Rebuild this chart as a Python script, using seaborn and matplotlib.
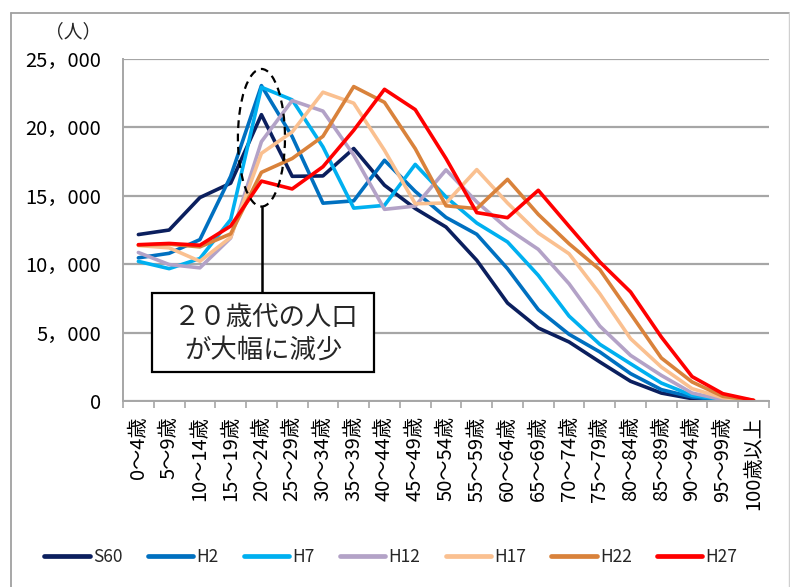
import numpy as np
import pandas as pd
import matplotlib
matplotlib.use("Agg")
import matplotlib.pyplot as plt
import seaborn as sns
from matplotlib.patches import Ellipse, Rectangle
from matplotlib.lines import Line2D
from matplotlib.ticker import FuncFormatter, FixedLocator

# ---------------- data ----------------
categories = ["0～4歳", "5～9歳", "10～14歳", "15～19歳", "20～24歳", "25～29歳",
              "30～34歳", "35～39歳", "40～44歳", "45～49歳", "50～54歳", "55～59歳",
              "60～64歳", "65～69歳", "70～74歳", "75～79歳", "80～84歳", "85～89歳",
              "90～94歳", "95～99歳", "100歳以上"]

s60 = [12150, 12480, 14850, 15900, 20900, 16400, 16430, 18430, 15750, 14050, 12700,
       10270, 7150, 5330, 4310, 2850, 1440, 580, 170, 30, 0]
h2 = [10450, 10780, 11780, 16400, 23020, 19300, 14440, 14610, 17570, 15300, 13400,
      12170, 9660, 6670, 4870, 3580, 2000, 830, 290, 50, 5]
h7 = [10190, 9660, 10400, 13240, 22900, 21980, 18550, 14080, 14280, 17270, 14890,
      12990, 11610, 9170, 6200, 4140, 2720, 1310, 410, 100, 10]
h12 = [10840, 9960, 9720, 11900, 18930, 21930, 21160, 17950, 13990, 14230, 16870,
       14530, 12580, 11070, 8560, 5470, 3330, 1870, 580, 100, 10]
h17 = [11350, 11180, 10200, 11950, 18080, 19640, 22540, 21740, 18300, 14400, 14450,
       16890, 14450, 12260, 10750, 7830, 4550, 2480, 900, 240, 30]
h22 = [11380, 11450, 11250, 12200, 16690, 17700, 19320, 22950, 21800, 18420, 14250,
       14040, 16180, 13620, 11480, 9590, 6370, 3140, 1390, 340, 50]
h27 = [11410, 11500, 11370, 12770, 16050, 15480, 17100, 19760, 22750, 21270, 17700,
       13750, 13380, 15380, 12750, 10150, 7960, 4670, 1780, 535, 50]

series_names = ["S60", "H2", "H7", "H12", "H17", "H22", "H27"]
series_values = [s60, h2, h7, h12, h17, h22, h27]
colors = ["#0B1F5E", "#0070C0", "#00B0F0", "#B3A2C7", "#FAC090", "#D9823B", "#FF0000"]

y_ticks = [0, 5000, 10000, 15000, 20000, 25000]

# ---------------- frame ----------------
rows = []
for name, vals in zip(series_names, series_values):
    for i, v in enumerate(vals):
        rows.append({"pos": i, "value": v, "series": name})
df = pd.DataFrame(rows)

sns.set_style("white")
plt.rcParams["font.family"] = ["Noto Sans CJK JP", "DejaVu Sans"]

fig = plt.figure(figsize=(7.9, 5.87), dpi=100)
ax = fig.add_axes([123 / 790, 1 - 401 / 587, (769 - 123) / 790, (401 - 58.5) / 587])

sns.lineplot(data=df, x="pos", y="value", hue="series", hue_order=series_names,
             palette=colors, linewidth=2.6, ax=ax, legend=False, sort=False)

grid_c = "#A6A6A6"
ax.set_xlim(-0.5, len(categories) - 0.5)
ax.set_ylim(0, 25000)
ax.set_yticks(y_ticks)
ax.yaxis.set_major_formatter(FuncFormatter(lambda v, p: f"{int(v):,}".replace(",", "，")))
ax.grid(axis="y", color=grid_c, linewidth=1.6)
ax.grid(axis="x", visible=False)
ax.set_axisbelow(True)

ax.set_xticks(np.arange(len(categories)))
ax.set_xticklabels(categories, rotation=90, ha="center", va="top")
ax.xaxis.set_minor_locator(FixedLocator(np.arange(-0.5, len(categories), 1.0)))
ax.tick_params(axis="x", which="major", length=0, pad=11, labelsize=14.5, colors="black")
ax.tick_params(axis="x", which="minor", length=5, width=1.2, color=grid_c, direction="out")
ax.tick_params(axis="y", which="major", length=6, width=1.2, color=grid_c,
               direction="out", pad=10, labelsize=14.5, labelcolor="black")
ax.tick_params(axis="x", which="minor", bottom=True)
ax.set_xlabel("")
ax.set_ylabel("")

for s in ["top", "right"]:
    ax.spines[s].set_visible(False)
for s in ["left", "bottom"]:
    ax.spines[s].set_color(grid_c)
    ax.spines[s].set_linewidth(1.4)

# unit label
fig.text(73 / 790, 1 - 32 / 587, "（人）", ha="center", va="center", fontsize=13.5)

# dashed ellipse + connector
ax.add_patch(Ellipse((4, 19214), 1.53, 10044, fill=False, edgecolor="black",
                     linestyle=(0, (3.5, 2.5)), linewidth=1.6, zorder=5))
ax.plot([4.03, 4.03], [14192, 7933], color="black", linewidth=1.8, zorder=5)

# annotation box
fig.add_artist(Rectangle((152 / 790, 1 - 372 / 587), (374 - 152) / 790, (372 - 293) / 587,
                         transform=fig.transFigure, facecolor="white", edgecolor="black",
                         linewidth=1.6, zorder=6))
fig.text(266 / 790, 1 - 317 / 587, "２０歳代の人口", ha="center", va="center",
         fontsize=19, zorder=7)
fig.text(263 / 790, 1 - 350 / 587, "が大幅に減少", ha="center", va="center",
         fontsize=19, zorder=7)

# legend
handles = [Line2D([0], [0], color=c, linewidth=3.4) for c in colors]
fig.legend(handles, series_names, loc="center", bbox_to_anchor=(0.495, 1 - 557 / 587),
           ncol=7, frameon=False, fontsize=12.5, handlelength=2.6, handletextpad=0.2,
           columnspacing=1.45)

# outer frame (top, left, right)
fc = "#A0A0A0"
fig.add_artist(Line2D([11 / 790, 789 / 790], [1 - 13 / 587, 1 - 13 / 587],
                      transform=fig.transFigure, color=fc, linewidth=1.3))
fig.add_artist(Line2D([11 / 790, 11 / 790], [0, 1 - 13 / 587],
                      transform=fig.transFigure, color=fc, linewidth=1.3))
fig.add_artist(Line2D([789 / 790, 789 / 790], [0, 1 - 13 / 587],
                      transform=fig.transFigure, color="#D0D0D0", linewidth=1.0))

fig.savefig("out.png", dpi=100)
